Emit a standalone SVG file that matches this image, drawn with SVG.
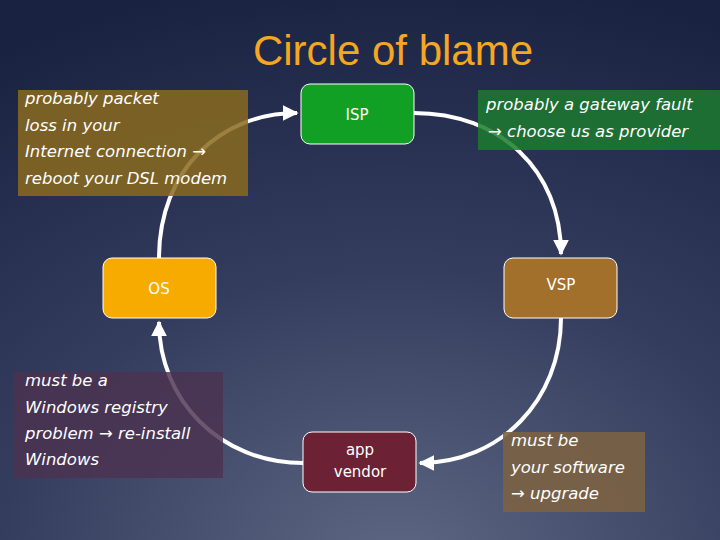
<svg xmlns="http://www.w3.org/2000/svg" width="720" height="540" viewBox="0 0 720 540">
<defs>
<radialGradient id="bg" cx="0.55" cy="1.05" r="1.1">
<stop offset="0" stop-color="#5e6883"/>
<stop offset="0.5" stop-color="#343d5e"/>
<stop offset="1" stop-color="#1a2242"/>
</radialGradient>
<marker id="ah" viewBox="0 0 10 10" refX="9" refY="5" markerWidth="4" markerHeight="4" orient="auto" markerUnits="strokeWidth">
<path d="M0,0 L10,5 L0,10 z" fill="#fff"/>
</marker>
<style>
.node text{font-family:"DejaVu Sans",sans-serif;font-size:15px;fill:#fff;text-anchor:middle}
.node rect{stroke:#fff;stroke-width:1}
.conn path{fill:none;stroke:#fff;stroke-width:4;marker-end:url(#ah)}
.call text{font-family:"DejaVu Sans",sans-serif;font-style:italic;font-size:16.5px;fill:#fff}
</style>
</defs>
<rect width="720" height="540" fill="url(#bg)"/>
<text x="393" y="65" font-family="Liberation Sans, sans-serif" font-size="42" fill="#f5a623" text-anchor="middle">Circle of blame</text>
<g id="connectors" class="conn">
<path d="M159,258 C159,170 220,113 297,113"/>
<path d="M414,113 C500,113 561,170 561,254"/>
<path d="M561,318 C561,400 500,463 420,463"/>
<path d="M303,463 C220,463 159,400 159,322"/>
</g>
<g id="isp" class="node"><rect x="301" y="84" width="113" height="60" rx="9" fill="#12a024"/><text x="357" y="120">ISP</text></g>
<g id="os" class="node"><rect x="103" y="258" width="113" height="60" rx="9" fill="#f7ab00"/><text x="159" y="294">OS</text></g>
<g id="vsp" class="node"><rect x="504" y="258" width="113" height="60" rx="9" fill="#a2702a"/><text x="561" y="290">VSP</text></g>
<g id="app" class="node"><rect x="303" y="432" width="113" height="60" rx="9" fill="#6c2234"/><text x="360" y="455">app</text><text x="360" y="477">vendor</text></g>
<g id="note-isp" class="call"><rect x="18" y="90" width="230" height="106" fill="#8a6a1e" fill-opacity="0.85"/>
<text x="25" y="104">probably packet</text><text x="25" y="131">loss in your</text><text x="25" y="157">Internet connection →</text><text x="25" y="184">reboot your DSL modem</text></g>
<g id="note-vsp" class="call"><rect x="478" y="90" width="242" height="60" fill="#1c7a2e" fill-opacity="0.85"/>
<text x="486" y="110">probably a gateway fault</text><text x="488" y="137">→ choose us as provider</text></g>
<g id="note-os" class="call"><rect x="13" y="372" width="210" height="106" fill="#4c3250" fill-opacity="0.82"/>
<text x="25" y="386">must be a</text><text x="25" y="413">Windows registry</text><text x="25" y="439">problem → re-install</text><text x="25" y="465">Windows</text></g>
<g id="note-app" class="call"><rect x="503" y="432" width="142" height="80" fill="#7c6244" fill-opacity="0.9"/>
<text x="511" y="446">must be</text><text x="511" y="473">your software</text><text x="511" y="499">→ upgrade</text></g>
</svg>
